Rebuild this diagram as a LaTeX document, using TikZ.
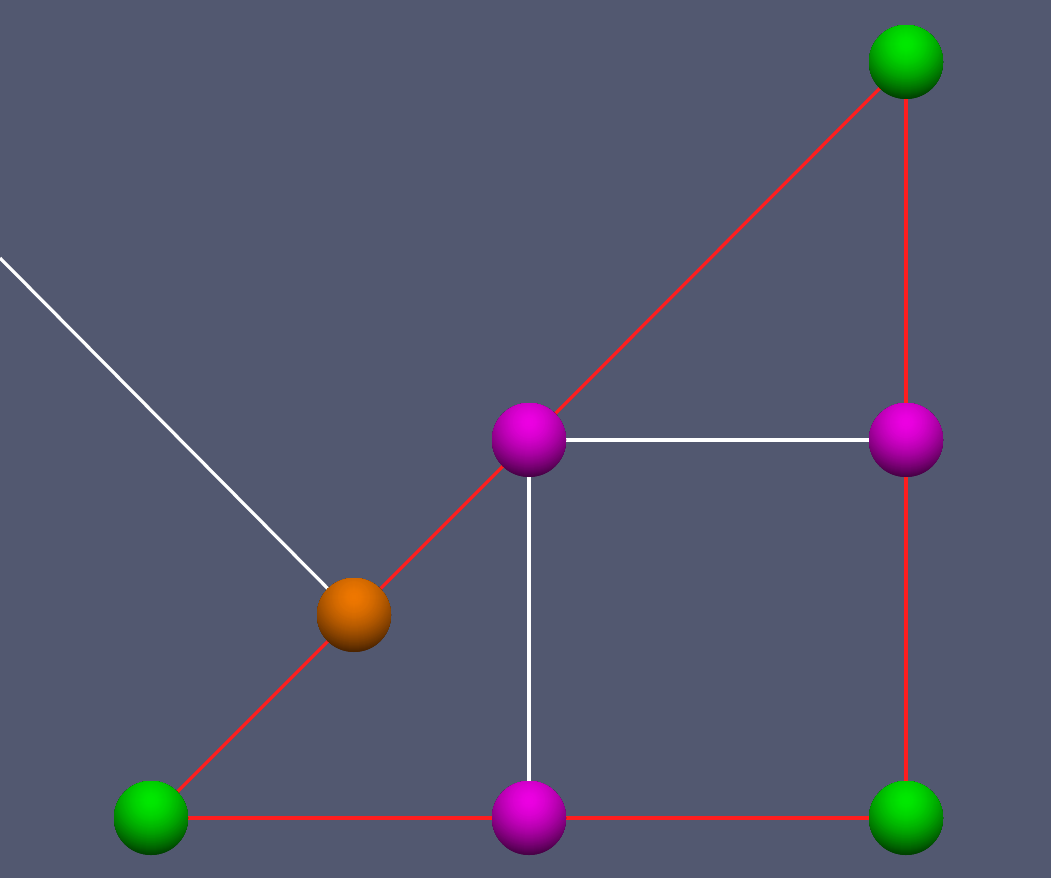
\documentclass[tikz,border=0pt]{standalone}
\usetikzlibrary{calc}
\definecolor{bg}{HTML}{525870}
\definecolor{redl}{HTML}{FF1E1E}
\definecolor{gA}{HTML}{00EA00}\definecolor{gB}{HTML}{003C00}
\definecolor{mA}{HTML}{EE00E4}\definecolor{mB}{HTML}{440042}
\definecolor{oA}{HTML}{F07800}\definecolor{oB}{HTML}{482200}
\tikzset{
  sphere/.style={circle, minimum size=74pt, inner sep=0pt,
    path picture={
      \foreach \r in {56,55,...,1}{
        \pgfmathtruncatemacro\pc{100*(1-(\r/56)^1.7)}
        \fill[#1A!\pc!#1B] ([yshift=18pt]path picture bounding box.center) circle (\r pt);
      }}},
  gball/.style={sphere=g},
  mball/.style={sphere=m},
  oball/.style={sphere=o},
  redline/.style={draw=redl, line width=3.2pt},
  whiteline/.style={draw=white, line width=3.2pt}
}
\begin{document}
\begin{tikzpicture}[x=1pt,y=-1pt]
\fill[bg] (0,0) rectangle (1051,878);
\useasboundingbox (0,0) rectangle (1051,878);
\coordinate (gtr) at (906,62);
\coordinate (mr) at (906,440);
\coordinate (mc) at (529,440);
\coordinate (o) at (354,615);
\coordinate (gbl) at (151,818);
\coordinate (mb) at (529,818);
\coordinate (gbr) at (906,818);
\coordinate (free) at (0,258);
% connectors
\draw[redline] (gbl) -- (o) -- (mc) -- (gtr);
\draw[redline] (gtr) -- (mr) -- (gbr);
\draw[redline] (gbl) -- (mb) -- (gbr);
\draw[whiteline] (mc) -- (mr);
\draw[whiteline] (mc) -- (mb);
\draw[whiteline] (o) -- (free);
% spheres
\node[gball] (Ngtr) at (gtr) {};
\node[mball] (Nmr) at (mr) {};
\node[mball] (Nmc) at (mc) {};
\node[oball] (No) at (o) {};
\node[gball] (Ngbl) at (gbl) {};
\node[mball] (Nmb) at (mb) {};
\node[gball] (Ngbr) at (gbr) {};
\end{tikzpicture}
\end{document}
